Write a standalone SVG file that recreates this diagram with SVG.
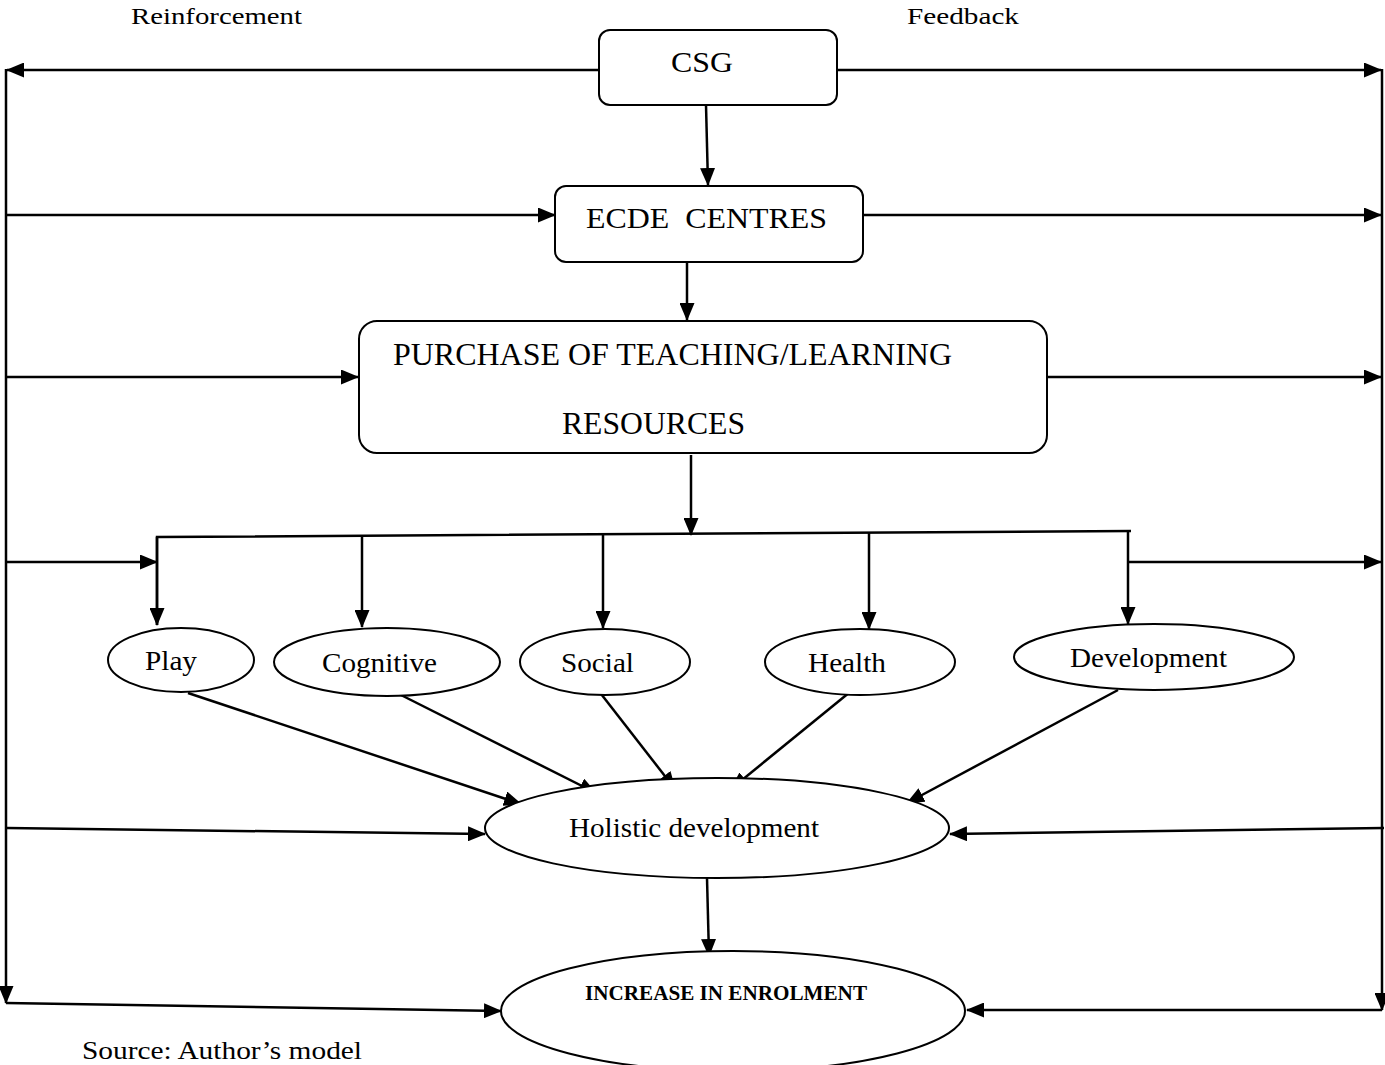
<svg xmlns="http://www.w3.org/2000/svg" width="1385" height="1065" viewBox="0 0 1385 1065">
<style>
.box{fill:#fff;stroke:#000;stroke-width:2}
.c{fill:none;stroke:#000;stroke-width:2.5}
.a{fill:none;stroke:#000;stroke-width:2.5;marker-end:url(#ah)}
.t{font-family:"Liberation Serif","Times New Roman",serif;fill:#000}
</style>
<defs>
<marker id="ah" markerUnits="userSpaceOnUse" markerWidth="18" markerHeight="15" refX="17" refY="7.5" orient="auto" viewBox="0 0 18 15">
<path d="M0,0 L18,7.5 L0,15 z" fill="#000"/>
</marker>
</defs>
<rect width="1385" height="1065" fill="#fff"/>
<text class="t" x="131" y="24" font-size="24" textLength="171" lengthAdjust="spacingAndGlyphs">Reinforcement</text>
<text class="t" x="907" y="24" font-size="24" textLength="112" lengthAdjust="spacingAndGlyphs">Feedback</text>
<g id="connectors">
<line class="a" x1="599" y1="70" x2="7" y2="70"/>
<line class="a" x1="837" y1="70" x2="1381" y2="70"/>
<line class="a" x1="6" y1="69" x2="6" y2="1003"/>
<line class="a" x1="1382" y1="69" x2="1382" y2="1010"/>
<line class="a" x1="706" y1="105" x2="708" y2="185"/>
<line class="a" x1="7" y1="215" x2="555" y2="215"/>
<line class="a" x1="863" y1="215" x2="1381" y2="215"/>
<line class="a" x1="687" y1="262" x2="687" y2="320"/>
<line class="a" x1="7" y1="377" x2="358" y2="377"/>
<line class="a" x1="1047" y1="377" x2="1381" y2="377"/>
<line class="a" x1="691" y1="455" x2="691" y2="535"/>
<polyline class="c" points="157,625 157,537 1131,531"/>
<line class="a" x1="157" y1="537" x2="157" y2="625"/>
<line class="a" x1="362" y1="536" x2="362" y2="627"/>
<line class="a" x1="603" y1="535" x2="603" y2="628"/>
<line class="a" x1="869" y1="533" x2="869" y2="629"/>
<line class="a" x1="1128" y1="531" x2="1128" y2="624"/>
<line class="a" x1="7" y1="562" x2="157" y2="562"/>
<line class="a" x1="1128" y1="562" x2="1381" y2="562"/>
<line class="a" x1="188" y1="693" x2="521" y2="804"/>
<line class="a" x1="397" y1="693" x2="596" y2="793"/>
<line class="a" x1="598" y1="690" x2="675" y2="789"/>
<line class="a" x1="850" y1="692" x2="731" y2="789"/>
<line class="a" x1="1118" y1="690" x2="907" y2="803"/>
<line class="a" x1="7" y1="828" x2="485" y2="834"/>
<line class="a" x1="1384" y1="828" x2="950" y2="834"/>
<line class="a" x1="707" y1="878" x2="709" y2="956"/>
<line class="a" x1="6" y1="1003" x2="501" y2="1011"/>
<line class="a" x1="1382" y1="1010" x2="967" y2="1010"/>
</g>
<g id="csg">
<rect class="box" x="599" y="30" width="238" height="75" rx="11"/>
<text class="t" x="671" y="72" font-size="30" textLength="62" lengthAdjust="spacingAndGlyphs">CSG</text>
</g>
<g id="ecde">
<rect class="box" x="555" y="186" width="308" height="76" rx="11"/>
<text class="t" x="586" y="228" font-size="30" textLength="241" lengthAdjust="spacingAndGlyphs" xml:space="preserve">ECDE  CENTRES</text>
</g>
<g id="purchase">
<rect class="box" x="359" y="321" width="688" height="132" rx="18"/>
<text class="t" x="393" y="365" font-size="31" textLength="559" lengthAdjust="spacingAndGlyphs">PURCHASE OF TEACHING/LEARNING</text>
<text class="t" x="562" y="434" font-size="31" textLength="183" lengthAdjust="spacingAndGlyphs">RESOURCES</text>
</g>
<g id="play">
<ellipse class="box" cx="181" cy="660" rx="73" ry="32"/>
<text class="t" x="145" y="670" font-size="27" textLength="52" lengthAdjust="spacingAndGlyphs">Play</text>
</g>
<g id="cognitive">
<ellipse class="box" cx="387" cy="662" rx="113" ry="34"/>
<text class="t" x="322" y="672" font-size="27" textLength="115" lengthAdjust="spacingAndGlyphs">Cognitive</text>
</g>
<g id="social">
<ellipse class="box" cx="605" cy="662" rx="85" ry="33"/>
<text class="t" x="561" y="672" font-size="27" textLength="73" lengthAdjust="spacingAndGlyphs">Social</text>
</g>
<g id="health">
<ellipse class="box" cx="860" cy="662" rx="95" ry="33"/>
<text class="t" x="808" y="672" font-size="27" textLength="78" lengthAdjust="spacingAndGlyphs">Health</text>
</g>
<g id="development">
<ellipse class="box" cx="1154" cy="657" rx="140" ry="33"/>
<text class="t" x="1070" y="667" font-size="27" textLength="157" lengthAdjust="spacingAndGlyphs">Development</text>
</g>
<g id="holistic">
<ellipse class="box" cx="717" cy="828" rx="232" ry="50"/>
<text class="t" x="569" y="837" font-size="27" textLength="250" lengthAdjust="spacingAndGlyphs">Holistic development</text>
</g>
<g id="enrolment">
<ellipse class="box" cx="733" cy="1011" rx="232" ry="60"/>
<text class="t" x="585" y="1000" font-size="20" font-weight="bold" textLength="282" lengthAdjust="spacingAndGlyphs">INCREASE IN ENROLMENT</text>
</g>
<text class="t" x="82" y="1059" font-size="25" textLength="280" lengthAdjust="spacingAndGlyphs">Source: Author’s model</text>
</svg>
